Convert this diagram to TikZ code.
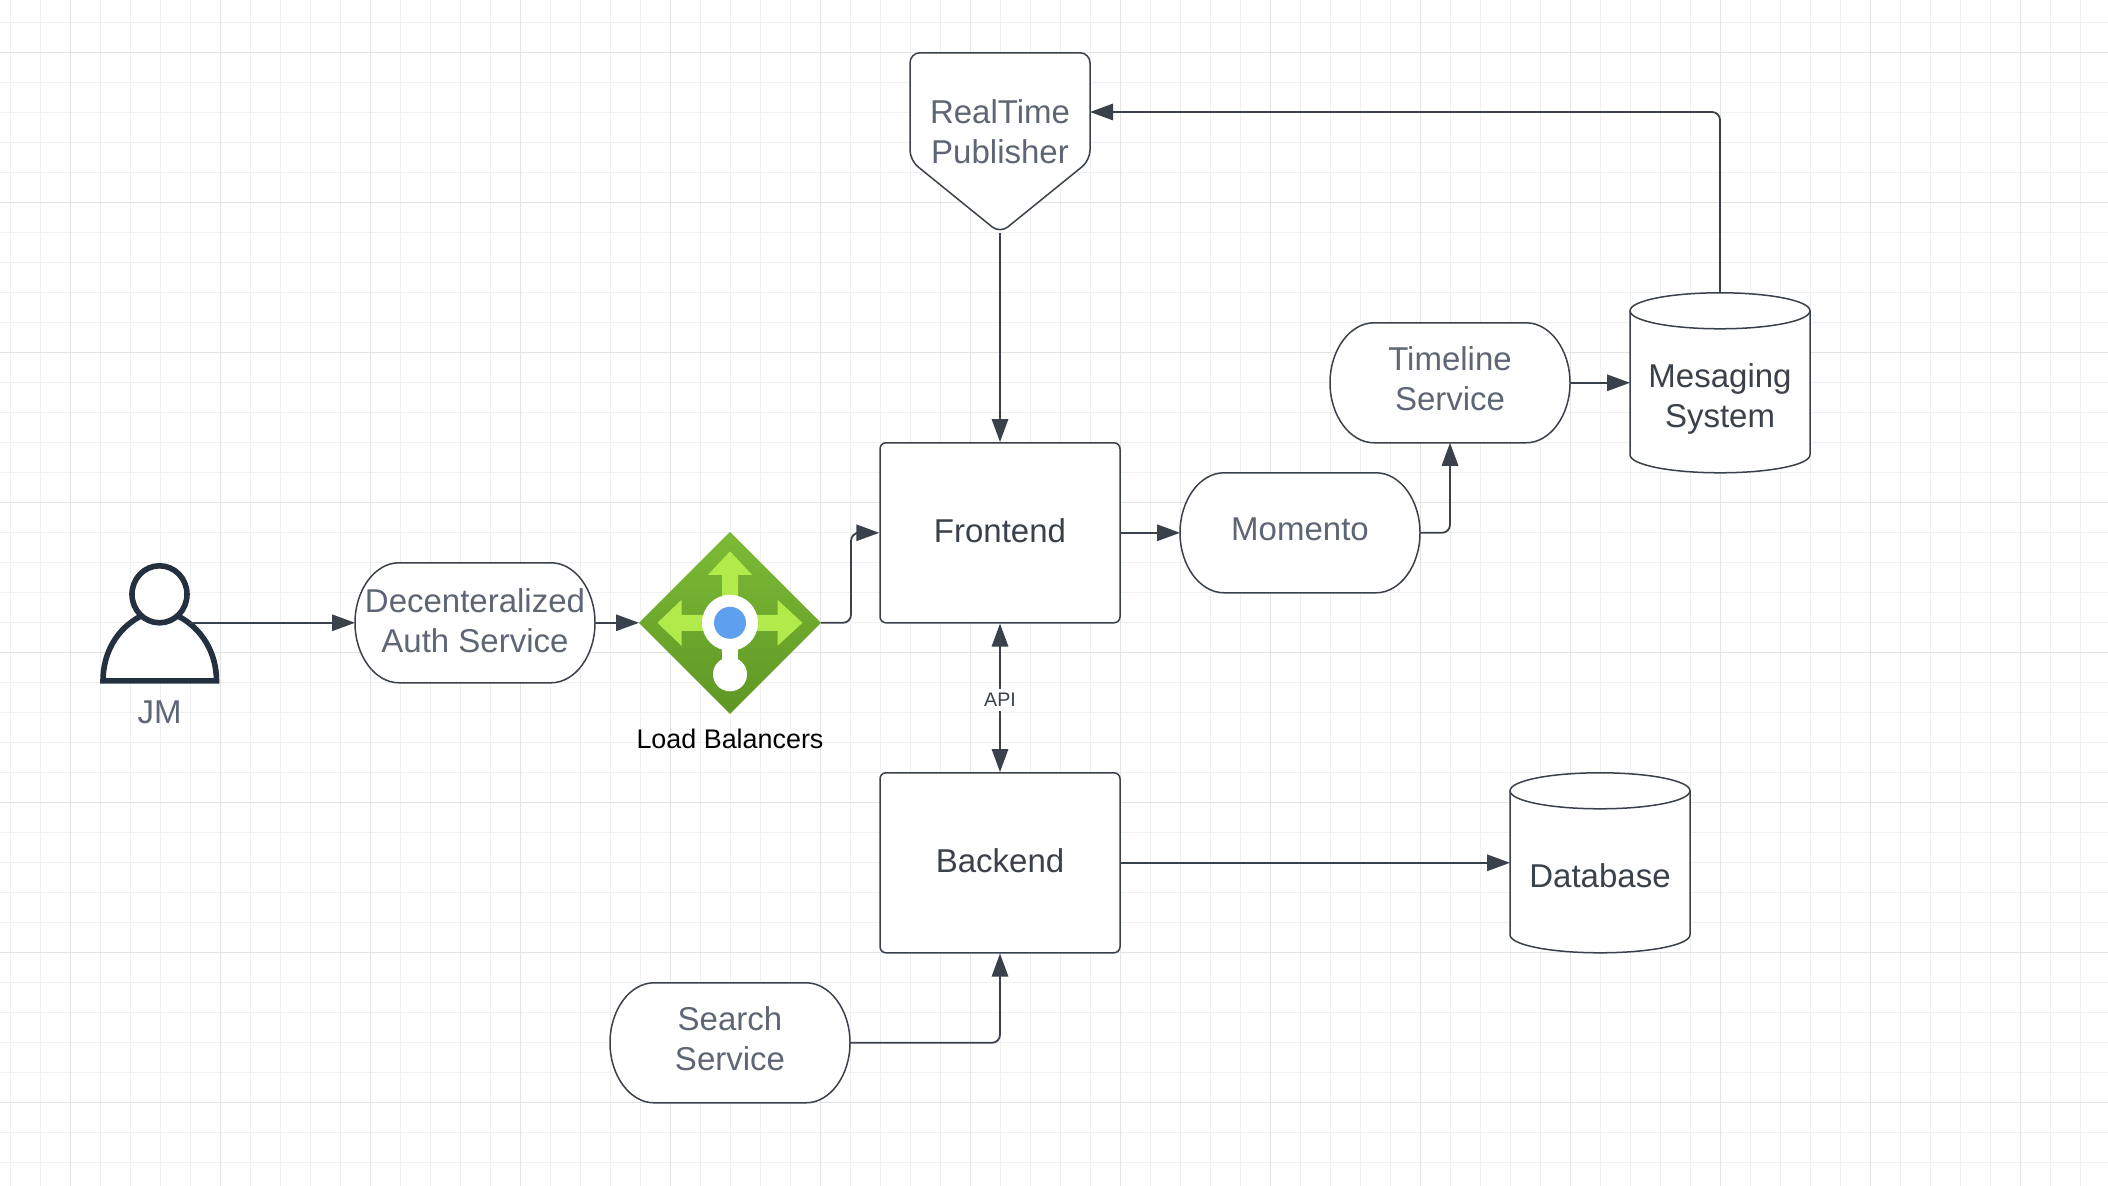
\documentclass[tikz,border=0pt]{standalone}
\usepackage{fontspec}
\setmainfont{Liberation Sans}
\usetikzlibrary{arrows.meta,calc}
\definecolor{inkdark}{HTML}{3A414A}
\definecolor{inkgray}{HTML}{5E6675}
\definecolor{gridminor}{HTML}{F0F0F0}
\definecolor{gridmajor}{HTML}{E3E3E3}
\definecolor{persona}{HTML}{22303F}
\definecolor{lbtop}{HTML}{7DBB36}
\definecolor{lbbottom}{HTML}{5E9624}
\definecolor{lbarrow}{HTML}{B2EA4B}
\definecolor{lbblue}{HTML}{5EA0EF}
\tikzset{
  x=0.5pt,y=-0.5pt,
  shapeline/.style={draw=inkdark,fill=white,line width=0.75pt},
  conn/.style={draw=inkdark,line width=0.9pt,rounded corners=4pt,-{Triangle[length=11.5pt,width=8.2pt]}},
  biconn/.style={draw=inkdark,line width=0.9pt,{Triangle[length=11.5pt,width=8.2pt]}-{Triangle[length=11.5pt,width=8.2pt]}},
  txt/.style={inner sep=0pt,outer sep=0pt,align=center,font=\fontsize{16.5}{20}\selectfont},
  graytxt/.style={txt,text=inkgray},
  darktxt/.style={txt,text=inkdark},
}
% name, cx, cy, text, text offset
\newcommand{\terminatorshape}[5]{%
  \begin{scope}[shift={(#2,#3)}]
    \path[shapeline] (-76,-60) -- (76,-60)
      .. controls (100,-60) and (120,-33) .. (120,0)
      .. controls (120,33) and (100,60) .. (76,60)
      -- (-76,60)
      .. controls (-100,60) and (-120,33) .. (-120,0)
      .. controls (-120,-33) and (-100,-60) .. (-76,-60) -- cycle;
    \node[inner sep=0pt,outer sep=0pt,minimum width=120pt,minimum height=60pt] (#1) at (0,0) {};
    \node[graytxt] (#1text) at (0,#5) {#4};
  \end{scope}}
% name, cx, cy, text, text offset
\newcommand{\cylindershape}[5]{%
  \begin{scope}[shift={(#2,#3)}]
    \path[shapeline] (-90,-72) .. controls (-90,-82) and (-50,-90) .. (0,-90)
      .. controls (50,-90) and (90,-82) .. (90,-72) -- (90,72)
      .. controls (90,82) and (50,90) .. (0,90)
      .. controls (-50,90) and (-90,82) .. (-90,72) -- cycle;
    \path[draw=inkdark,line width=0.75pt] (-90,-72) .. controls (-90,-62) and (-50,-54) .. (0,-54)
      .. controls (50,-54) and (90,-62) .. (90,-72);
    \node[inner sep=0pt,outer sep=0pt,minimum width=90pt,minimum height=90pt] (#1) at (0,0) {};
    \node[darktxt] (#1text) at (0,#5) {#4};
  \end{scope}}
\begin{document}
\begin{tikzpicture}
\fill[white] (0,0) rectangle (2108,1186);
\useasboundingbox (0,0) rectangle (2108,1186);
% grid
\foreach \gx in {10.5,40.5,...,2108} \draw[gridminor,line width=0.5pt] (\gx,0) -- (\gx,1186);
\foreach \gy in {22.5,52.5,...,1186} \draw[gridminor,line width=0.5pt] (0,\gy) -- (2108,\gy);
\foreach \gx in {70.5,220.5,...,2108} \draw[gridmajor,line width=0.5pt] (\gx,0) -- (\gx,1186);
\foreach \gy in {52.5,202.5,...,1186} \draw[gridmajor,line width=0.5pt] (0,\gy) -- (2108,\gy);

\begin{scope}[shift={(-0.5,0.3)}]
% person
\node[inner sep=0pt,outer sep=0pt,minimum width=30pt,minimum height=60pt] (jm) at (160,622.5) {};
\path[draw=persona,fill=white,line width=2.8pt,line join=miter]
  (103.5,680.5) .. controls (103.5,652) and (118,628) .. (141,616)
  -- (179,616) .. controls (202,628) and (217,652) .. (217,680.5) -- cycle;
\path[draw=persona,fill=white,line width=2.8pt] (160,594) ellipse[x radius=27.5,y radius=28.5];
\node[graytxt] (jmlabel) at (160,712) {JM};

% load balancer
\node[inner sep=0pt,outer sep=0pt,minimum width=91pt,minimum height=91pt] (lb) at (730.5,622.5) {};
\shade[top color=lbtop,bottom color=lbbottom] (639.5,622.5) -- (730.5,531.5) -- (821.5,622.5) -- (730.5,713.5) -- cycle;
\fill[lbarrow] (730.5,551) -- (752.5,574.5) -- (738.5,574.5) -- (738.5,615) -- (722.5,615) -- (722.5,574.5) -- (708.5,574.5) -- cycle;
\fill[lbarrow] (658,622.5) -- (682,599.5) -- (682,614.5) -- (730,614.5) -- (730,630.5) -- (682,630.5) -- (682,645.5) -- cycle;
\fill[lbarrow] (803,622.5) -- (778,599.5) -- (778,614.5) -- (730,614.5) -- (730,630.5) -- (778,630.5) -- (778,645.5) -- cycle;
\fill[white] (730.5,622.5) circle[radius=28];
\fill[white] (722.5,640) rectangle (738.5,665);
\fill[white] (730.5,674) circle[radius=17];
\fill[lbblue] (730.5,622.5) circle[radius=16];
\node[txt,font=\fontsize{13.45}{16}\selectfont,text=black] (lblabel) at (730.5,738.5) {Load Balancers};

% services
\terminatorshape{auth}{475.5}{622.5}{Decenteralized\\Auth Service}{-2}
\terminatorshape{momento}{1300.5}{532.5}{Momento}{-3}
\terminatorshape{timeline}{1450.5}{382.5}{Timeline\\Service}{-4}
\terminatorshape{search}{730.5}{1042.5}{Search\\Service}{-4}

% boxes
\node[shapeline,rounded corners=3pt,minimum width=120pt,minimum height=90pt,inner sep=0pt] (fe) at (1000.5,532.5) {};
\node[darktxt] (fetext) at (1000.5,530.5) {Frontend};
\node[shapeline,rounded corners=3pt,minimum width=120pt,minimum height=90pt,inner sep=0pt] (be) at (1000.5,862.5) {};
\node[darktxt] (betext) at (1000.5,860) {Backend};

% publisher
\path[shapeline,rounded corners=5pt] (910.5,52.5) -- (1090.5,52.5) -- (1090.5,160) -- (1000.5,233) -- (910.5,160) -- cycle;
\node[inner sep=0pt,outer sep=0pt,minimum width=90pt,minimum height=90pt] (pub) at (1000.5,142.5) {};
\node[graytxt] (pubtext) at (1000.5,131) {RealTime\\Publisher};

% cylinders
\cylindershape{msg}{1720.5}{382.5}{Mesaging\\System}{16}
\cylindershape{db}{1600.5}{862.5}{Database}{13}

% connectors
\draw[conn] (jm.east) -- (auth.west);
\draw[conn] (auth.east) -- (lb.west);
\draw[conn] (lb.east) -- ++(30,0) |- (fe.west);
\draw[conn] (fe.east) -- (momento.west);
\draw[conn] (momento.east) -| (timeline.south);
\draw[conn] (timeline.east) -- (msg.west);
\draw[conn] (msg.north) |- ([yshift=15.4pt]pub.east);
\draw[conn] (pub.south) -- (fe.north);
\draw[biconn] (fe.south) -- node[fill=white,inner sep=2pt,yshift=-1.2pt,font=\fontsize{9.8}{12}\selectfont,text=inkdark] (api) {API} (be.north);
\draw[conn] (be.east) -- (db.west);
\draw[conn] (search.east) -| (be.south);
\end{scope}
\end{tikzpicture}
\end{document}
